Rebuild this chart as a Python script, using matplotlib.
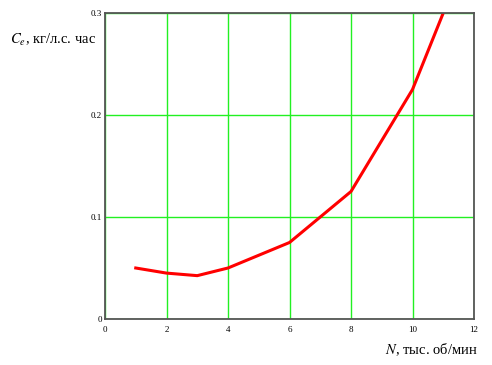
import numpy as np
import matplotlib.pyplot as plt

# data
n_rpm = [1, 2, 3, 4, 6, 8, 10, 11]
ce = [0.05, 0.045, 0.0425, 0.05, 0.075, 0.125, 0.225, 0.3]

x_ticks = [0, 2, 4, 6, 8, 10, 12]
y_ticks = [0, 0.1, 0.2, 0.3]

plt.rcParams['font.family'] = 'Liberation Serif'
plt.rcParams['mathtext.fontset'] = 'stix'

fig = plt.figure(figsize=(4.92, 3.65), dpi=100)
ax = fig.add_axes([105/492, 46/365, 369/492, 306/365])

ax.plot(n_rpm, ce, color='#ff0000', lw=2.2)

ax.set_xlim(0, 12)
ax.set_ylim(0, 0.3)
ax.set_xticks(x_ticks)
ax.set_yticks(y_ticks)
ax.set_xticklabels([str(v) for v in x_ticks])
ax.set_yticklabels(['0', '0.1', '0.2', '0.3'])
ax.tick_params(length=0, labelsize=6.5)
ax.tick_params(axis='x', pad=5)
ax.tick_params(axis='y', pad=2)
ax.grid(True, color='#22f022', lw=1.0)
ax.set_axisbelow(True)
for s in ax.spines.values():
    s.set_color('#555555')
    s.set_linewidth(1.3)

fig.text(10/492, 1 - 40/365, r'$C_e$, кг/л.с. час', fontsize=10.5, va='center', ha='left')
fig.text(478/492, 1 - 350/365, r'$N$, тыс. об/мин', fontsize=10.5, va='center', ha='right')

fig.savefig('out.png', dpi=100)
